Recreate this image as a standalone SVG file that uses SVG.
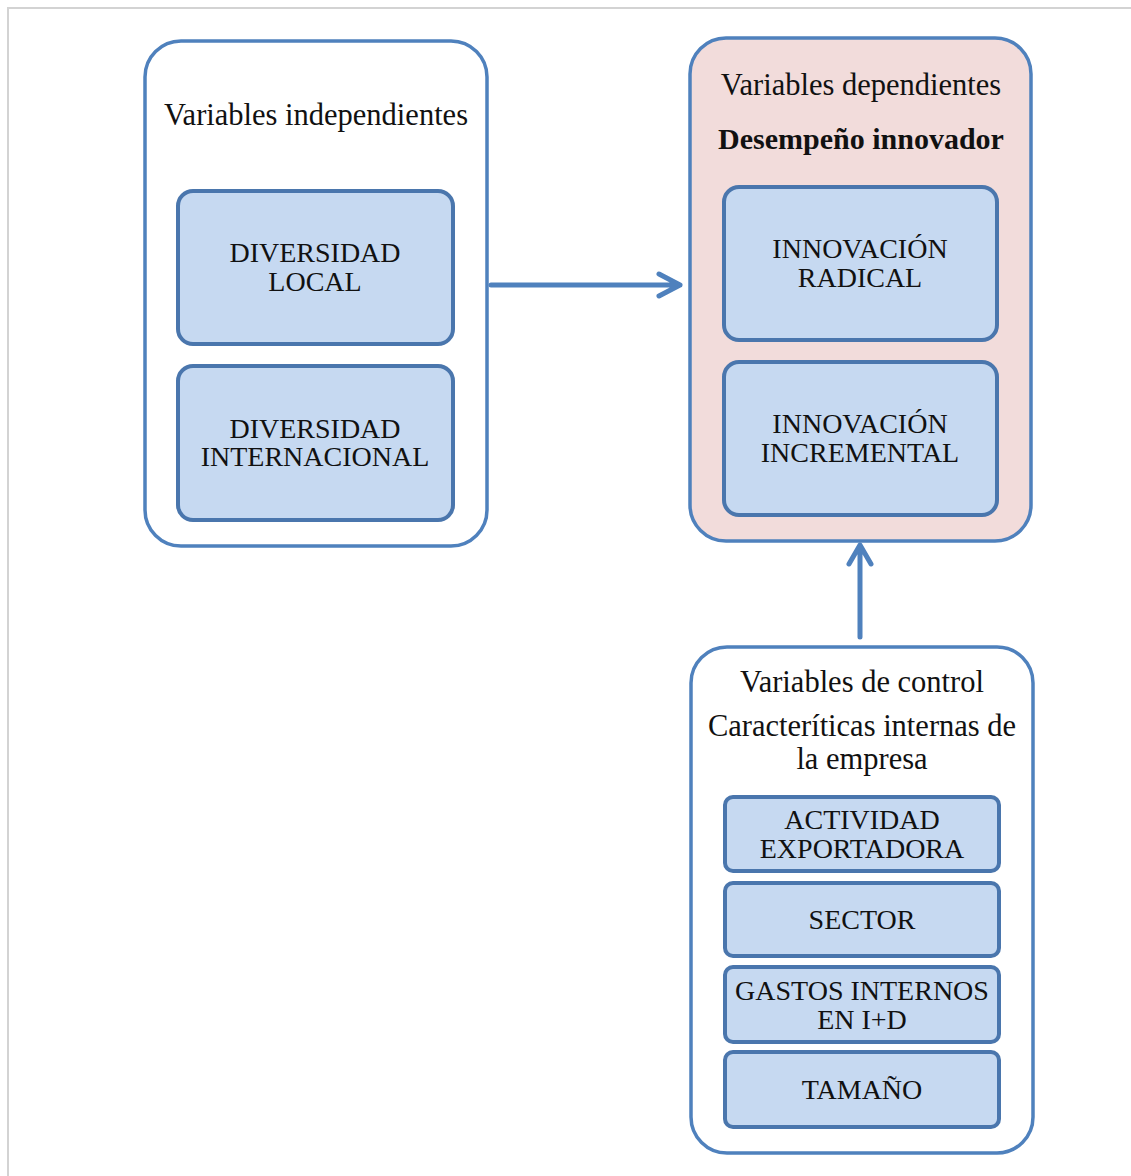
<svg xmlns="http://www.w3.org/2000/svg" width="1131" height="1176" viewBox="0 0 1131 1176" font-family="Liberation Serif, Times New Roman, serif">
<defs>
<style>
.outer{stroke:#4f81bd;stroke-width:3.5;}
.inner{fill:#c6d9f1;stroke:#4a76ad;stroke-width:4;}
text{fill:#111;text-anchor:middle;}
.h{font-size:30.5px;}
.b{font-size:30px;font-weight:bold;}
.t{font-size:28px;}
.conn{fill:none;stroke:#4f81bd;stroke-width:5;stroke-linecap:round;stroke-linejoin:round;}
</style>
</defs>
<rect x="0" y="0" width="1131" height="1176" fill="#ffffff"/>
<rect x="8" y="8" width="1140" height="1190" fill="none" stroke="#d3d3d3" stroke-width="2"/>

<g id="independientes">
<rect class="outer" x="145" y="41" width="342" height="505" rx="36" fill="#ffffff"/>
<text class="h" x="316" y="125">Variables independientes</text>
</g>
<g id="diversidad-local">
<rect class="inner" x="178" y="191" width="275" height="153" rx="15"/>
<text class="t" x="315" y="262">DIVERSIDAD</text>
<text class="t" x="315" y="291">LOCAL</text>
</g>
<g id="diversidad-internacional">
<rect class="inner" x="178" y="366" width="275" height="154" rx="15"/>
<text class="t" x="315" y="438">DIVERSIDAD</text>
<text class="t" x="315" y="466">INTERNACIONAL</text>
</g>

<g id="dependientes">
<rect class="outer" x="690" y="38" width="341" height="503" rx="36" fill="#f2dcdb"/>
<text class="h" x="861" y="95">Variables dependientes</text>
<text class="b" x="861" y="149">Desempeño innovador</text>
</g>
<g id="innovacion-radical">
<rect class="inner" x="724" y="187" width="273" height="153" rx="15"/>
<text class="t" x="860" y="258">INNOVACIÓN</text>
<text class="t" x="860" y="287">RADICAL</text>
</g>
<g id="innovacion-incremental">
<rect class="inner" x="724" y="362" width="273" height="153" rx="15"/>
<text class="t" x="860" y="433">INNOVACIÓN</text>
<text class="t" x="860" y="462">INCREMENTAL</text>
</g>

<g id="control">
<rect class="outer" x="691" y="647" width="342" height="506" rx="36" fill="#ffffff"/>
<text class="h" x="862" y="692">Variables de control</text>
<text class="h" x="862" y="736">Caracteríticas internas de</text>
<text class="h" x="862" y="769">la empresa</text>
</g>
<g id="actividad-exportadora">
<rect class="inner" x="725" y="797" width="274" height="74" rx="8"/>
<text class="t" x="862" y="829">ACTIVIDAD</text>
<text class="t" x="862" y="858">EXPORTADORA</text>
</g>
<g id="sector">
<rect class="inner" x="725" y="883" width="274" height="73" rx="8"/>
<text class="t" x="862" y="929">SECTOR</text>
</g>
<g id="gastos">
<rect class="inner" x="725" y="967" width="274" height="75" rx="8"/>
<text class="t" x="862" y="1000">GASTOS INTERNOS</text>
<text class="t" x="862" y="1029">EN I+D</text>
</g>
<g id="tamano">
<rect class="inner" x="725" y="1052" width="274" height="75" rx="8"/>
<text class="t" x="862" y="1099">TAMAÑO</text>
</g>

<g id="connectors">
<path class="conn" d="M491 285 H680 M659 274 L680 285 L659 296"/>
<path class="conn" d="M860 637 V545 M849 564 L860 545 L871 564"/>
</g>
</svg>
